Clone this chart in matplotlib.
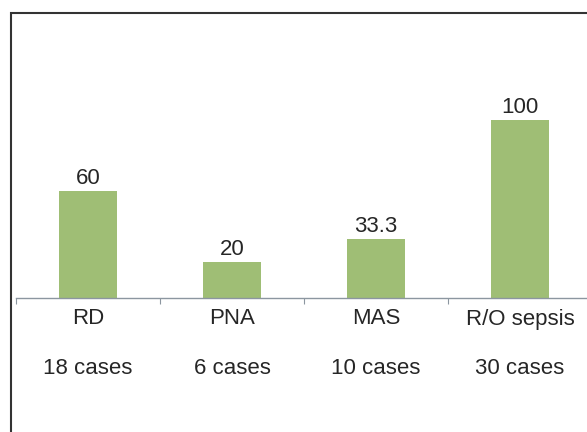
import matplotlib
matplotlib.use("Agg")
import matplotlib.pyplot as plt
from matplotlib.patches import Rectangle

categories = ["RD", "PNA", "MAS", "R/O sepsis"]
cases = ["18 cases", "6 cases", "10 cases", "30 cases"]
values = [60, 20, 33.3, 100]
value_labels = ["60", "20", "33.3", "100"]

plt.rcParams['font.family'] = ['Liberation Sans', 'DejaVu Sans']

W, H = 587, 432
fig = plt.figure(figsize=(W / 100, H / 100), dpi=100)

# outer frame (cut off at right and bottom)
fig.patches.append(Rectangle((10.5 / W, -0.1), 1.2, (H - 13.5) / H + 0.1,
                             transform=fig.transFigure, fill=False,
                             edgecolor='#333333', linewidth=1.5))

ymax = 150
px_per_unit = 1.78
ax_left, ax_bottom_px = 16, 298
ax_width_px = 144 * 4
ax_height_px = ymax * px_per_unit
ax = fig.add_axes([ax_left / W, (H - ax_bottom_px) / H, ax_width_px / W, ax_height_px / H])

x = range(len(categories))
ax.bar(x, values, width=0.4, color='#9FBE75', zorder=2)
ax.set_xlim(-0.5, len(categories) - 0.5)
ax.set_ylim(0, ymax)

for xi, v, lab in zip(x, values, value_labels):
    ax.annotate(lab, (xi, v), xytext=(0, 2), textcoords='offset pixels',
                ha='center', va='bottom', fontsize=16, color='#262626')

for s in ['top', 'right', 'left']:
    ax.spines[s].set_visible(False)
ax.spines['bottom'].set_color('#8C96A0')
ax.spines['bottom'].set_linewidth(1.0)
ax.set_yticks([])
ax.set_xticks([i - 0.5 for i in range(len(categories) + 1)])
ax.set_xticklabels([])
ax.tick_params(axis='x', direction='out', length=4, color='#8C96A0')

for xi, c, n in zip(x, categories, cases):
    ax.annotate(c, (xi, 0), xytext=(0, -21), textcoords='offset pixels',
                ha='center', va='center', fontsize=16, color='#262626')
    ax.annotate(n, (xi, 0), xytext=(0, -70), textcoords='offset pixels',
                ha='center', va='center', fontsize=16, color='#262626')

fig.savefig("out.png", dpi=100)
